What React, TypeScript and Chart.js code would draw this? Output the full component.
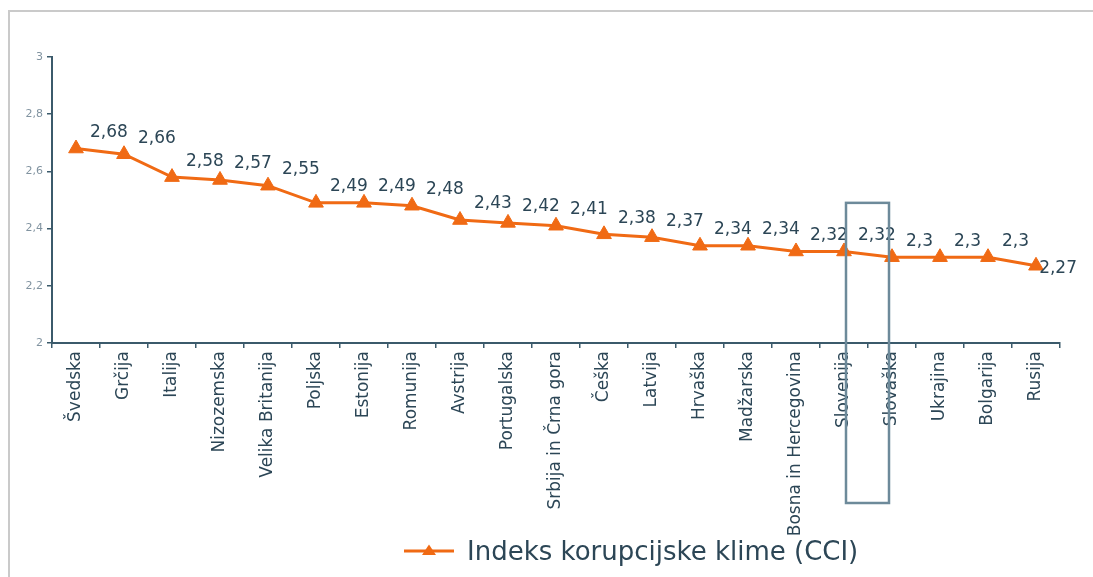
import React, { useEffect, useRef } from 'react';
import { Chart, registerables } from 'chart.js';

Chart.register(...registerables);

const countries: string[] = [
  'Švedska', 'Grčija', 'Italija', 'Nizozemska', 'Velika Britanija', 'Poljska', 'Estonija',
  'Romunija', 'Avstrija', 'Portugalska', 'Srbija in Črna gora', 'Češka', 'Latvija', 'Hrvaška',
  'Madžarska', 'Bosna in Hercegovina', 'Slovenija', 'Slovaška', 'Ukrajina', 'Bolgarija', 'Rusija',
];
const cciValues: number[] = [
  2.68, 2.66, 2.58, 2.57, 2.55, 2.49, 2.49, 2.48, 2.43, 2.42, 2.41,
  2.38, 2.37, 2.34, 2.34, 2.32, 2.32, 2.3, 2.3, 2.3, 2.27,
];
const yTickValues: number[] = [2, 2.2, 2.4, 2.6, 2.8, 3];
const seriesName = 'Indeks korupcijske klime (CCI)';
const highlightFrom = 'Slovenija';
const highlightTo = 'Slovaška';
const highlightTopValue = 2.49;

const FONT = "'DejaVu Sans', Verdana, sans-serif";
const ORANGE = '#f06a14';
const AXIS = '#3b5a6b';
const TEXT = '#2c4656';

const fmt = (v: number) => String(Math.round(v * 100) / 100).replace('.', ',');

function makeLegendMarker(): HTMLCanvasElement {
  const c = document.createElement('canvas');
  c.width = 50;
  c.height = 20;
  const g = c.getContext('2d')!;
  g.strokeStyle = ORANGE;
  g.lineWidth = 3;
  g.beginPath();
  g.moveTo(0, 8);
  g.lineTo(50, 8);
  g.stroke();
  g.fillStyle = ORANGE;
  g.beginPath();
  g.moveTo(25, 1.5);
  g.lineTo(32, 12);
  g.lineTo(18, 12);
  g.closePath();
  g.fill();
  return c;
}

const dataLabelPlugin = {
  id: 'dataLabels',
  afterDatasetsDraw(chart: any) {
    const ctx = chart.ctx;
    const meta = chart.getDatasetMeta(0);
    ctx.save();
    ctx.font = `17px ${FONT}`;
    ctx.fillStyle = TEXT;
    ctx.textBaseline = 'middle';
    ctx.textAlign = 'left';
    const limit = chart.chartArea.right + 17;
    meta.data.forEach((pt: any, i: number) => {
      const text = fmt(cciValues[i]);
      const w = ctx.measureText(text).width;
      let x = pt.x + 14;
      let y = pt.y - 16;
      if (x + w > limit) {
        x = limit - w;
        y = pt.y + 3;
      }
      ctx.fillText(text, x, y);
    });
    ctx.restore();
  },
};

const highlightPlugin = {
  id: 'highlightBox',
  afterDraw(chart: any) {
    const xs = chart.scales.x;
    const ys = chart.scales.y;
    const i0 = countries.indexOf(highlightFrom);
    const i1 = countries.indexOf(highlightTo);
    const left = xs.getPixelForValue(i0) + 2;
    const right = xs.getPixelForValue(i1) - 3;
    const top = ys.getPixelForValue(highlightTopValue);
    const bottom = xs.top + 160;
    const ctx = chart.ctx;
    ctx.save();
    ctx.strokeStyle = '#6d8a9a';
    ctx.lineWidth = 2.5;
    ctx.strokeRect(left, top, right - left, bottom - top);
    ctx.restore();
  },
};

const legendPlacePlugin = {
  id: 'legendPlace',
  afterLayout(chart: any) {
    const lg = chart.legend;
    if (!lg) return;
    const w = lg.right - lg.left;
    const h = lg.bottom - lg.top;
    const pad = lg.options.labels.padding;
    lg.left = 394 - pad;
    lg.right = lg.left + w;
    lg.top = 518;
    lg.bottom = lg.top + h;
  },
};

export default function App() {
  const ref = useRef<HTMLCanvasElement | null>(null);

  useEffect(() => {
    document.documentElement.style.overflow = 'hidden';
    document.body.style.overflow = 'hidden';
    const canvas = ref.current;
    if (!canvas) return;
    const marker = makeLegendMarker();
    const chart = new Chart(canvas, {
      type: 'line',
      data: {
        labels: countries,
        datasets: [
          {
            label: seriesName,
            data: cciValues,
            borderColor: ORANGE,
            backgroundColor: ORANGE,
            borderWidth: 3,
            pointStyle: 'triangle',
            pointRadius: 8.5,
            pointBorderWidth: 1,
            pointBackgroundColor: ORANGE,
            pointBorderColor: ORANGE,
            tension: 0,
            fill: false,
          },
        ],
      },
      options: {
        responsive: false,
        animation: false,
        layout: { padding: { top: 45, right: 33, left: 0, bottom: 0 } },
        plugins: {
          tooltip: { enabled: false },
          title: { display: false },
          legend: {
            display: true,
            position: 'bottom',
            align: 'start',
            labels: {
              usePointStyle: true,
              pointStyle: marker as any,
              pointStyleWidth: 50,
              boxHeight: 26,
              padding: 10,
              color: TEXT,
              font: { family: FONT, size: 26 },
            },
          },
        },
        scales: {
          x: {
            type: 'category',
            offset: true,
            grid: {
              display: true,
              offset: true,
              drawOnChartArea: false,
              drawTicks: true,
              tickLength: 5,
              color: AXIS,
              lineWidth: 1.5,
            },
            border: { display: true, color: AXIS, width: 2 },
            ticks: {
              autoSkip: false,
              maxRotation: 90,
              minRotation: 90,
              padding: 3,
              color: TEXT,
              font: { family: FONT, size: 17 },
            },
            afterFit: (s: any) => {
              s.height = 223;
            },
          },
          y: {
            type: 'linear',
            min: 2,
            max: 3,
            afterBuildTicks: (s: any) => {
              s.ticks = yTickValues.map((v) => ({ value: v }));
            },
            grid: {
              display: true,
              drawOnChartArea: false,
              drawTicks: true,
              tickLength: 5,
              color: AXIS,
              lineWidth: 1.5,
            },
            border: { display: true, color: AXIS, width: 2 },
            ticks: {
              padding: 4,
              color: '#8193a0',
              font: { family: FONT, size: 11 },
              callback: (v: any) => fmt(Number(v)),
            },
            afterFit: (s: any) => {
              s.width = 42;
            },
          },
        },
      },
      plugins: [dataLabelPlugin, highlightPlugin, legendPlacePlugin],
    });
    return () => chart.destroy();
  }, []);

  return (
    <div
      style={{
        position: 'fixed',
        left: 8,
        top: 10,
        boxSizing: 'border-box',
        width: 1100,
        height: 620,
        overflow: 'hidden',
        borderTop: '2px solid #cacaca',
        borderLeft: '2px solid #cacaca',
        background: '#ffffff',
      }}
    >
      <canvas ref={ref} width={1083} height={600} style={{ display: 'block', width: 1083, height: 600 }} />
    </div>
  );
}
